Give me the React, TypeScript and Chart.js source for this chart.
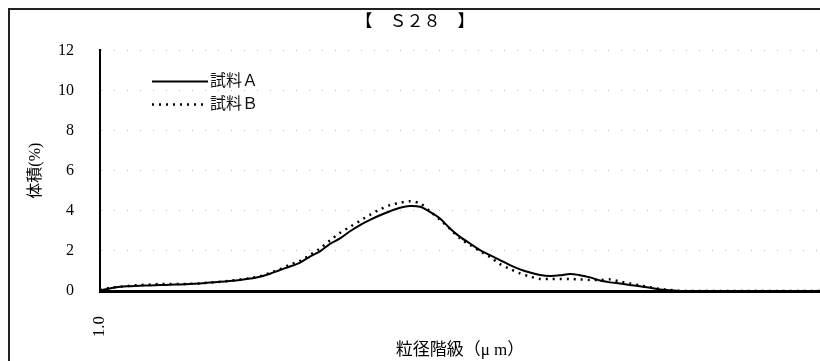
import React, { useEffect, useRef } from "react";
import { Chart, registerables } from "chart.js";

Chart.register(...registerables);

// Particle size classes (only the first class is labelled in the reference)
const sizeClasses: string[] = ["1.0", ...Array(72).fill("")];

const seriesLabels = ["試料Ａ", "試料Ｂ"];

const sampleA: number[] = [
  0.03, 0.13, 0.21, 0.24, 0.26, 0.28, 0.3, 0.31, 0.33, 0.35,
  0.38, 0.42, 0.46, 0.5, 0.55, 0.62, 0.71, 0.86, 1.05, 1.22,
  1.42, 1.72, 1.98, 2.35, 2.62, 2.98, 3.29, 3.55, 3.78, 3.98,
  4.15, 4.24, 4.2, 3.95, 3.62, 3.12, 2.7, 2.37, 2.04, 1.79,
  1.54, 1.29, 1.08, 0.92, 0.8, 0.75, 0.78, 0.85, 0.79, 0.68,
  0.52, 0.43, 0.37, 0.3, 0.24, 0.16, 0.08, 0.04, 0, 0,
  0, 0, 0, 0, 0, 0, 0, 0, 0, 0,
  0, 0, 0,
];

const sampleB: number[] = [
  0.05, 0.16, 0.21, 0.26, 0.3, 0.32, 0.35, 0.35, 0.35, 0.36,
  0.38, 0.42, 0.46, 0.51, 0.57, 0.64, 0.74, 0.9, 1.09, 1.32,
  1.5, 1.8, 2.12, 2.52, 2.9, 3.2, 3.5, 3.8, 4.07, 4.28,
  4.4, 4.48, 4.37, 3.98, 3.55, 3.1, 2.62, 2.3, 1.99, 1.7,
  1.34, 1.1, 0.88, 0.72, 0.6, 0.6, 0.6, 0.6, 0.58, 0.55,
  0.55, 0.58, 0.47, 0.38, 0.28, 0.19, 0.1, 0.05, 0, 0,
  0, 0, 0, 0, 0, 0, 0, 0, 0, 0,
  0, 0, 0,
];

const yMin = 0;
const yMax = 12;
const yStep = 2;

const chartTitle = "【　Ｓ２８　】";
const xTitle = "粒径階級（μ m）";
const yTitle = "体積(%)";

const SERIF = "'Liberation Serif', 'DejaVu Serif', 'Noto Sans CJK JP', serif";
const CJK = "'Liberation Serif', 'Noto Sans CJK JP', serif";

const insideLegend = {
  id: "insideLegend",
  afterDraw(chart: any) {
    const { ctx, chartArea } = chart;
    const x0 = chartArea.left + 52;
    const rows = [chartArea.top + 31, chartArea.top + 54];
    ctx.save();
    chart.data.datasets.forEach((ds: any, i: number) => {
      const y = rows[i];
      ctx.beginPath();
      ctx.setLineDash(ds.borderDash || []);
      ctx.lineWidth = ds.borderWidth;
      ctx.strokeStyle = ds.borderColor;
      ctx.moveTo(x0, y);
      ctx.lineTo(x0 + 56, y);
      ctx.stroke();
      ctx.setLineDash([]);
      ctx.fillStyle = "#111";
      ctx.font = "16px " + CJK;
      ctx.textBaseline = "middle";
      ctx.textAlign = "left";
      ctx.fillText(ds.label, x0 + 58, y);
    });
    ctx.restore();
  },
};

export default function App() {
  const ref = useRef<HTMLCanvasElement>(null);

  useEffect(() => {
    if (!ref.current) return;
    const chart = new Chart(ref.current, {
      type: "line",
      data: {
        labels: sizeClasses,
        datasets: [
          {
            label: seriesLabels[0],
            data: sampleA,
            borderColor: "#000",
            borderWidth: 2,
            pointRadius: 0,
            tension: 0.3,
            fill: false,
          },
          {
            label: seriesLabels[1],
            data: sampleB,
            borderColor: "#000",
            borderWidth: 2.5,
            borderDash: [2, 5],
            pointRadius: 0,
            tension: 0.3,
            fill: false,
          },
        ],
      },
      options: {
        responsive: false,
        animation: false,
        layout: { padding: 0 },
        plugins: {
          legend: { display: false },
          tooltip: { enabled: false },
          title: {
            display: true,
            text: chartTitle,
            color: "#000",
            font: { family: CJK, size: 17, weight: "normal" },
            padding: { top: 2, bottom: 18 },
          },
        },
        scales: {
          x: {
            type: "category",
            offset: false,
            grid: { display: false, drawTicks: false },
            border: { display: true, color: "#000", width: 3 },
            ticks: {
              autoSkip: false,
              minRotation: 90,
              maxRotation: 90,
              padding: 25,
              color: "#000",
              font: { family: SERIF, size: 17 },
            },
            title: {
              display: true,
              text: xTitle,
              color: "#000",
              font: { family: CJK, size: 17 },
              padding: { top: 0, bottom: 0 },
            },
            afterFit(scale: any) {
              scale.height = 70;
              scale.paddingRight = 0;
              scale.paddingLeft = 0;
            },
          },
          y: {
            min: yMin,
            max: yMax,
            grid: {
              color: "rgba(0,0,0,0.28)",
              lineWidth: 1,
              drawTicks: false,
            },
            border: { display: true, color: "#000", width: 2, dash: [1, 12] },
            ticks: {
              stepSize: yStep,
              padding: 26,
              color: "#000",
              font: { family: SERIF, size: 16 },
            },
            title: {
              display: true,
              text: yTitle,
              color: "#000",
              font: { family: CJK, size: 16 },
              padding: { top: 16, bottom: 0 },
            },
            afterFit(scale: any) {
              scale.width = 90;
            },
          },
        },
      },
      plugins: [insideLegend],
    });
    return () => chart.destroy();
  }, []);

  return (
    <div
      style={{
        position: "fixed",
        left: 8,
        top: 8,
        width: 812,
        height: 353,
        overflow: "hidden",
        borderTop: "2px solid #222",
        borderLeft: "2px solid #222",
        background: "#fff",
      }}
    >
      <canvas ref={ref} width={810} height={351} style={{ display: "block" }} />
    </div>
  );
}
